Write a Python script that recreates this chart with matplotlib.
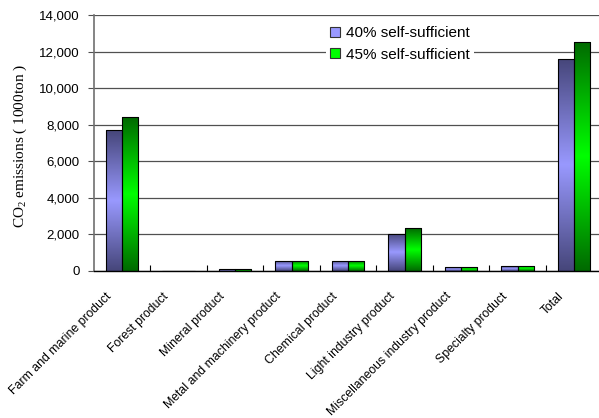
import numpy as np
import matplotlib
matplotlib.use("Agg")
import matplotlib.pyplot as plt
from matplotlib.colors import LinearSegmentedColormap
from matplotlib.patches import Patch
from matplotlib.transforms import ScaledTranslation

plt.rcParams['font.family'] = ['Liberation Sans', 'DejaVu Sans']
plt.rcParams['mathtext.fontset'] = 'custom'
plt.rcParams['mathtext.rm'] = 'Liberation Serif'
plt.rcParams['mathtext.it'] = 'Liberation Serif:italic'

categories = [
    "Farm and marine product", "Forest product", "Mineral product",
    "Metal and machinery product", "Chemical product", "Light industry product",
    "Miscellaneous industry product", "Specialty product", "Total",
]
series_names = ["40% self-sufficient", "45% self-sufficient"]
values_40 = [7700, 0, 110, 560, 560, 2050, 200, 270, 11600]
values_45 = [8400, 0, 120, 570, 560, 2330, 210, 280, 12550]
yticks = [0, 2000, 4000, 6000, 8000, 10000, 12000, 14000]

dark_light = [("#46467a", "#9999ff"), ("#006a00", "#00ff00")]
flat_colors = ["#9999ff", "#00ff00"]

fig = plt.figure(figsize=(5.99, 4.18), dpi=100)
ax = fig.add_axes([0.1565, 0.3517, 0.849, 0.6124])

n = len(categories)
x = np.arange(n)
bw = 0.29

for k, vals in enumerate([values_40, values_45]):
    cmap = LinearSegmentedColormap.from_list(
        f"g{k}", [dark_light[k][0], dark_light[k][1], dark_light[k][0]])
    offs = -bw / 2 if k == 0 else bw / 2
    bars = ax.bar(x + offs, vals, width=bw, facecolor="none", edgecolor="black",
                  linewidth=0.8, zorder=3)
    for b in bars:
        h = b.get_height()
        if h <= 0:
            continue
        x0 = b.get_x()
        im = ax.imshow(np.linspace(0, 1, 128)[:, None], cmap=cmap, aspect="auto",
                       extent=[x0, x0 + b.get_width(), 0, h], origin="lower",
                       zorder=2, interpolation="bilinear")
        im.set_clip_path(b)

ax.set_xlim(-0.5, n - 0.5)
ax.set_ylim(0, 14000)
ax.set_yticks(yticks)
ax.set_yticklabels([f"{v:,}" for v in yticks], fontsize=9.5)
ax.yaxis.grid(True, color="#505050", linewidth=0.9, zorder=1)
ax.set_axisbelow(True)

for s in ["top", "right"]:
    ax.spines[s].set_visible(False)
ax.spines["left"].set_color("#707070")
ax.spines["left"].set_linewidth(1.2)
ax.spines["bottom"].set_color("black")
ax.spines["bottom"].set_linewidth(1.0)
ax.tick_params(axis="y", length=4, direction="out", color="#505050", pad=6)

# category boundaries carry the x ticks, labels go underneath
ax.set_xticks(np.arange(n - 1) + 0.5, minor=False)
ax.tick_params(axis="x", which="major", length=4, direction="in", labelbottom=False)
ax.set_xticks(x, minor=True)
ax.set_xticklabels(categories, minor=True, rotation=45, ha="right",
                   va="center", rotation_mode="anchor", fontsize=8.8)
ax.tick_params(axis="x", which="minor", length=0, pad=17)
shift = ScaledTranslation(-0.12, 0, fig.dpi_scale_trans)
for lbl in ax.get_xticklabels(minor=True):
    lbl.set_transform(lbl.get_transform() + shift)

ax.set_ylabel("CO$_2$ emissions ( 1000ton )", fontsize=11, family="Liberation Serif")
ax.yaxis.set_label_coords(-0.128, 0.49)

handles = [Patch(facecolor=flat_colors[i], edgecolor="#333333", linewidth=0.8) for i in range(2)]
leg = fig.legend(handles, series_names, loc="upper left", bbox_to_anchor=(0.531, 0.967),
                 fontsize=11, frameon=True, handlelength=0.65, handleheight=0.65,
                 handletextpad=0.35, labelspacing=0.5, borderpad=0.3)
leg.get_frame().set_edgecolor("none")
leg.get_frame().set_facecolor("white")
leg.get_frame().set_alpha(1)

fig.savefig("out.png", dpi=100)
